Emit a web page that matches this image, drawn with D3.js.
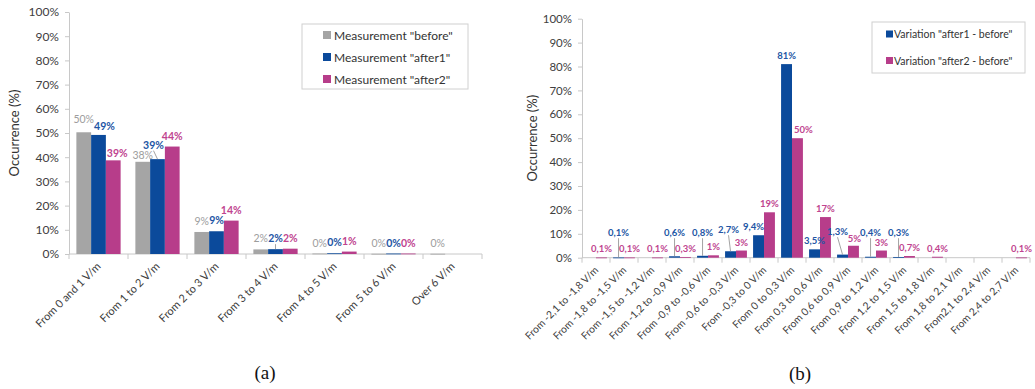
<!DOCTYPE html>
<html>
<head>
<meta charset="utf-8">
<script src="https://cdn.jsdelivr.net/npm/d3@7"></script>
<style>
  html, body { margin: 0; padding: 0; background: #fff; }
  svg { display: block; }
  text { font-family: Lato, "Open Sans", sans-serif; }
</style>
</head>
<body>
<svg id="fig" width="1035" height="389"></svg>
<script>
// ---- Panel (a): field level distribution per measurement campaign ----
const fieldRanges = ["From 0 and 1 V/m", "From 1 to 2 V/m", "From 2 to 3 V/m", "From 3 to 4 V/m",
                     "From 4 to 5 V/m", "From 5 to 6 V/m", "Over 6 V/m"];
const measBefore = [50.3, 38.1, 9.1, 1.9, 0.2, 0.1, 0.1];
const measAfter1 = [49.2, 39.2, 9.4, 2.0, 0.3, 0.2, 0];
const measAfter2 = [38.7, 44.4, 13.8, 2.2, 1.0, 0.2, 0];
const measNames  = ['Measurement "before"', 'Measurement "after1"', 'Measurement "after2"'];

// ---- Panel (b): distribution of the variation between campaigns ----
const variationRanges = ["From -2,1 to -1,8 V/m", "From -1,8 to -1,5 V/m", "From -1,5 to -1,2 V/m",
                         "From -1,2 to -0,9 V/m", "From -0,9 to -0,6 V/m", "From -0,6 to -0,3 V/m",
                         "From -0,3 to 0 V/m", "From 0 to 0,3 V/m", "From 0,3 to 0,6 V/m",
                         "From 0,6 to 0,9 V/m", "From 0,9 to 1,2 V/m", "From 1,2 to 1,5 V/m",
                         "From 1,5 to 1,8 V/m", "From 1,8 to 2,1 V/m", "From2,1 to 2,4 V/m",
                         "From 2,4 to 2,7 V/m"];
const varAfter1 = [0, 0.1, 0, 0.6, 0.8, 2.7, 9.4, 81, 3.5, 1.3, 0.4, 0.3, 0, 0, 0, 0];
const varAfter2 = [0.1, 0.1, 0.1, 0.3, 1, 3, 19, 50, 17, 5, 3, 0.7, 0.4, 0, 0, 0.1];
const varNames  = ['Variation "after1 - before"', 'Variation "after2 - before"'];

const yTicks = [0, 10, 20, 30, 40, 50, 60, 70, 80, 90, 100];

const GRAY = "#a5a5a5", BLUE = "#0b4a9b", PINK = "#b73d8a";
const GRAY_TXT = "#9d9d9d", BLUE_TXT = "#2255a4", PINK_TXT = "#c0448f";
const AXIS = "#c8c8c8";

const svg = d3.select("#fig");

function drawPanel(cfg) {
  const g = svg.append("g");
  const x0 = d3.scaleBand().domain(cfg.cats).range([cfg.left, cfg.right]).paddingInner(0).paddingOuter(0);
  const bw = x0.bandwidth();
  const x1 = d3.scaleBand().domain(cfg.series.map(s => s.name))
    .range([bw * cfg.groupPad, bw * (1 - cfg.groupPad)]);
  const y = d3.scaleLinear().domain([0, 100]).range([cfg.bottom, cfg.top]);

  // y axis
  const yAxis = d3.axisLeft(y).tickValues(yTicks).tickFormat(d => d + "%")
    .tickSizeInner(4).tickSizeOuter(0).tickPadding(6);
  const ya = g.append("g").attr("transform", `translate(${cfg.left},0)`).call(yAxis);
  ya.select(".domain").attr("stroke", AXIS);
  ya.selectAll(".tick line").attr("stroke", AXIS);
  ya.selectAll(".tick text").attr("fill", "#404040")
    .style("font-family", "Lato, sans-serif").style("font-size", cfg.tickFont + "px");

  // x axis: baseline with separators between categories
  g.append("line").attr("x1", cfg.left).attr("x2", cfg.right)
    .attr("y1", cfg.bottom).attr("y2", cfg.bottom).attr("stroke", AXIS);
  const seps = cfg.cats.map(c => x0(c)).concat([cfg.right]);
  g.selectAll("line.sep").data(seps).enter().append("line")
    .attr("x1", d => d).attr("x2", d => d)
    .attr("y1", cfg.bottom).attr("y2", cfg.bottom + 5).attr("stroke", AXIS);

  // rotated category labels
  g.selectAll("text.cat").data(cfg.cats).enter().append("text")
    .attr("text-anchor", "end")
    .attr("transform", d => `translate(${x0(d) + bw / 2 + cfg.labDx},${cfg.bottom + cfg.labDy}) rotate(-45)`)
    .attr("fill", "#404040")
    .style("font-size", cfg.catFont + "px")
    .text(d => d);

  // y axis title
  g.append("text")
    .attr("transform", `translate(${cfg.titleX},${(cfg.top + cfg.bottom) / 2}) rotate(-90)`)
    .attr("text-anchor", "middle").attr("fill", "#333")
    .style("font-size", cfg.titleFont + "px")
    .text("Occurrence (%)");

  // bars
  cfg.series.forEach(s => {
    const rows = cfg.cats.map((c, i) => ({ cat: c, v: s.values[i], i }));
    g.selectAll(null).data(rows.filter(r => r.v > 0)).enter().append("rect")
      .attr("x", r => x0(r.cat) + x1(s.name))
      .attr("width", x1.bandwidth())
      .attr("y", r => y(r.v))
      .attr("height", r => Math.max(0.8, y(0) - y(r.v)))
      .attr("fill", s.color);
  });

  // value labels (drawn after all bars so they stay on top)
  cfg.series.forEach((s, si) => {
    s.values.forEach((v, i) => {
      if (!(v > 0)) return;
      const cat = cfg.cats[i];
      const cx = x0(cat) + x1(s.name) + x1.bandwidth() / 2;
      const n = (cfg.nudge && cfg.nudge[si + ":" + i]) || {};
      const lifted = s.lift && s.lift(v, i);
      let ly = lifted ? y(s.liftTo) : y(v) - cfg.labGap;
      ly += n.dy || 0;
      const lx = cx + (n.dx || 0);
      g.append("text")
        .attr("x", lx).attr("y", ly)
        .attr("text-anchor", "middle")
        .attr("fill", s.textColor)
        .style("font-size", cfg.valFont + "px")
        .style("font-weight", s.bold ? "700" : "400")
        .text(s.fmt(v));
      if (lifted || n.leader) {
        g.append("line")
          .attr("x1", lx).attr("x2", cx)
          .attr("y1", ly + 2).attr("y2", y(v))
          .attr("stroke", "#8c8c8c").attr("stroke-width", 0.8);
      }
    });
  });

  // legend
  const lg = g.append("g");
  lg.append("rect").attr("x", cfg.legend.x).attr("y", cfg.legend.y)
    .attr("width", cfg.legend.w).attr("height", cfg.legend.h)
    .attr("fill", "#fff").attr("stroke", "#d0d0d0");
  cfg.series.forEach((s, i) => {
    const cy = cfg.legend.y + cfg.legend.first + i * cfg.legend.step;
    lg.append("rect").attr("x", cfg.legend.x + cfg.legend.sx).attr("y", cy - cfg.legend.sq / 2)
      .attr("width", cfg.legend.sq).attr("height", cfg.legend.sq).attr("fill", s.color);
    lg.append("text").attr("x", cfg.legend.x + cfg.legend.tx).attr("y", cy)
      .attr("dominant-baseline", "central").attr("fill", "#333")
      .style("font-size", cfg.legend.font + "px")
      .text(s.name);
  });
}

const intPct = v => Math.round(v) + "%";
const commaPct = v => (Number.isInteger(v) ? v : v.toFixed(1).replace(".", ",")) + "%";

drawPanel({
  cats: fieldRanges, left: 69, right: 482, top: 12, bottom: 254,
  groupPad: 0.125, tickFont: 12, catFont: 11, titleFont: 13, valFont: 10.5, titleX: 19,
  labDx: 3, labDy: 13, labGap: 7,
  // hand-placed value labels ("series:category")
  nudge: {
    "0:0": { dy: -2 },
    "1:0": { dx: 6, dy: 2 },
    "2:0": { dx: 4, dy: 4 },
    "0:1": { dy: 4 },
    "1:1": { dx: -4, dy: -3.5, leader: true },
    "1:3": { leader: true }
  },
  series: [
    { name: measNames[0], values: measBefore, color: GRAY, textColor: GRAY_TXT, bold: false, fmt: intPct },
    { name: measNames[1], values: measAfter1, color: BLUE, textColor: BLUE_TXT, bold: true, fmt: intPct },
    { name: measNames[2], values: measAfter2, color: PINK, textColor: PINK_TXT, bold: true, fmt: intPct }
  ],
  legend: { x: 302, y: 24, w: 166, h: 65, first: 11, step: 22, sx: 21, sq: 8, tx: 32, font: 12 }
});

drawPanel({
  cats: variationRanges, left: 582, right: 1030, top: 18.7, bottom: 257.7,
  groupPad: 0.11, tickFont: 11.5, catFont: 10.3, titleFont: 13, valFont: 9.5, titleX: 537,
  labDx: 3, labDy: 13, labGap: 5,
  nudge: {
    "0:5": { dx: -2, dy: -3 },
    "0:6": { dx: -5 },
    "0:9": { dx: -5, dy: -1 },
    "1:7": { dx: 6 },
    "1:9": { dx: 1, dy: 1 }
  },
  series: [
    { name: varNames[0], values: varAfter1, color: BLUE, textColor: BLUE_TXT, bold: true, fmt: commaPct,
      lift: v => v < 3, liftTo: 9 },
    { name: varNames[1], values: varAfter2, color: PINK, textColor: PINK_TXT, bold: true, fmt: commaPct }
  ],
  legend: { x: 872, y: 22, w: 153, h: 51, first: 12, step: 26.5, sx: 14, sq: 7, tx: 22, font: 10.5 }
});

// panel captions
svg.append("text").attr("x", 265).attr("y", 379).attr("text-anchor", "middle")
  .style("font-family", "'Liberation Serif', 'DejaVu Serif', serif").style("font-size", "19px")
  .attr("fill", "#111").text("(a)");
svg.append("text").attr("x", 800).attr("y", 380).attr("text-anchor", "middle")
  .style("font-family", "'Liberation Serif', 'DejaVu Serif', serif").style("font-size", "19px")
  .attr("fill", "#111").text("(b)");
</script>
</body>
</html>
